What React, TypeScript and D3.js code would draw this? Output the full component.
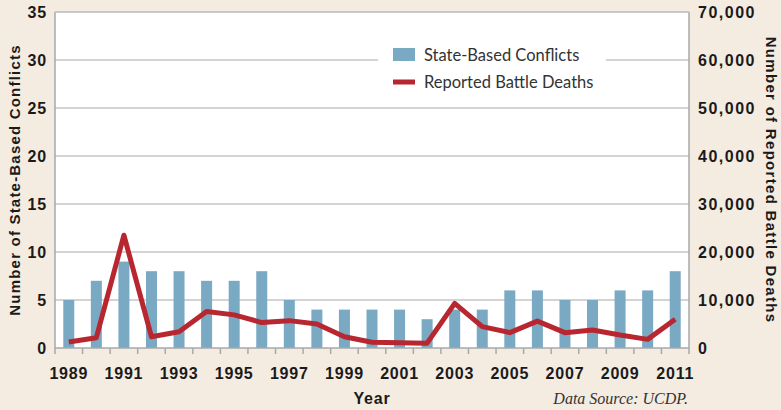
import * as d3 from 'd3';
import { useEffect, useRef } from 'react';

const years = d3.range(1989, 2012).map(String);
const conflicts = [5, 7, 9, 8, 8, 7, 7, 8, 5, 4, 4, 4, 4, 3, 4, 4, 6, 6, 5, 5, 6, 6, 8];
const battleDeaths = [
    1250, 2150, 23500, 2350, 3400, 7600, 6900, 5300, 5700, 5000, 2350, 1200, 1100, 1000, 9300, 4450, 3200, 5600,
    3200, 3750, 2700, 1800, 6000,
];
const leftTicks = [0, 5, 10, 15, 20, 25, 30, 35];
const rightTicks = [0, 10000, 20000, 30000, 40000, 50000, 60000, 70000];
const yearLabels = years.filter((_, i) => i % 2 === 0);

const W = 781;
const H = 410;
const BG = '#f4ebe1';
const BAR = '#7aaac3';
const RED = '#b8262f';
const GRID = '#c4c4c4';
const AXIS_FONT = '"Liberation Sans", Arial, sans-serif';

export default function App() {
    const svgRef = useRef<SVGSVGElement>(null);

    useEffect(() => {
        if (!svgRef.current) return;
        const svg = d3.select(svgRef.current);
        svg.selectAll('*').remove();

        const margin = { top: 12, right: 92, bottom: 62, left: 55 };
        const width = W - margin.left - margin.right;
        const height = H - margin.top - margin.bottom;

        svg.append('rect').attr('width', W).attr('height', H).attr('fill', BG);

        const g = svg.append('g').attr('transform', `translate(${margin.left},${margin.top})`);

        const x = d3.scaleBand().domain(years).range([0, width]);
        const yL = d3.scaleLinear().domain([0, 35]).range([height, 0]);
        const yR = d3.scaleLinear().domain([0, 70000]).range([height, 0]);

        g.append('rect').attr('width', width).attr('height', height).attr('fill', '#fff');

        // legend box hides part of the 30 gridline
        const legX = 323;
        const legW = 228;

        // gridlines
        g.append('g')
            .selectAll('line')
            .data(leftTicks.filter((d) => d > 0 && d !== 30))
            .join('line')
            .attr('x1', 0)
            .attr('x2', width)
            .attr('y1', (d) => yL(d))
            .attr('y2', (d) => yL(d))
            .attr('stroke', GRID)
            .attr('stroke-width', 1.5);

        [
            [0, legX],
            [legX + legW, width],
        ].forEach(([a, b]) => {
            g.append('line')
                .attr('x1', a)
                .attr('x2', b)
                .attr('y1', yL(30))
                .attr('y2', yL(30))
                .attr('stroke', GRID)
                .attr('stroke-width', 1.5);
        });

        // bars
        const bw = 11;
        g.append('g')
            .selectAll('rect')
            .data(conflicts)
            .join('rect')
            .attr('x', (_, i) => (x(years[i]) as number) + x.bandwidth() / 2 - bw / 2)
            .attr('y', (d) => yL(d))
            .attr('width', bw)
            .attr('height', (d) => height - yL(d))
            .attr('fill', BAR);

        // battle deaths line
        const line = d3
            .line<number>()
            .x((_, i) => (x(years[i]) as number) + x.bandwidth() / 2)
            .y((d) => yR(d));
        g.append('path')
            .datum(battleDeaths)
            .attr('d', line)
            .attr('fill', 'none')
            .attr('stroke', RED)
            .attr('stroke-width', 5)
            .attr('stroke-linejoin', 'round');

        // axis frame
        const frame = g.append('g').attr('stroke', '#a9a9a9').attr('stroke-width', 1.5);
        frame.append('line').attr('x1', 0).attr('x2', 0).attr('y1', 0).attr('y2', height + 6);
        frame.append('line').attr('x1', width).attr('x2', width).attr('y1', 0).attr('y2', height + 6);
        frame.append('line').attr('x1', 0).attr('x2', width).attr('y1', 0).attr('y2', 0).attr('stroke', GRID);
        frame.append('line').attr('x1', 0).attr('x2', width).attr('y1', height).attr('y2', height);
        frame
            .selectAll('line.tick')
            .data(years.slice(1))
            .join('line')
            .attr('class', 'tick')
            .attr('x1', (d) => x(d) as number)
            .attr('x2', (d) => x(d) as number)
            .attr('y1', height)
            .attr('y2', height + 6);

        const tickText = (sel: d3.Selection<SVGTextElement, any, any, any>) =>
            sel
                .attr('font-family', AXIS_FONT)
                .attr('font-weight', 'bold')
                .attr('font-size', 16)
                .attr('letter-spacing', 0.8)
                .attr('fill', '#1a1a1a');

        g.append('g')
            .selectAll('text')
            .data(leftTicks)
            .join('text')
            .attr('x', -8)
            .attr('y', (d) => yL(d) + 6)
            .attr('text-anchor', 'end')
            .text((d) => d)
            .call(tickText);

        g.append('g')
            .selectAll('text')
            .data(rightTicks)
            .join('text')
            .attr('x', width + 9)
            .attr('y', (d) => yR(d) + 6)
            .attr('text-anchor', 'start')
            .text((d) => d3.format(',')(d))
            .call(tickText)
            .attr('letter-spacing', 1.5);

        g.append('g')
            .selectAll('text')
            .data(yearLabels)
            .join('text')
            .attr('x', (d) => (x(d) as number) + x.bandwidth() / 2)
            .attr('y', height + 31)
            .attr('text-anchor', 'middle')
            .text((d) => d)
            .call(tickText);

        // axis titles
        svg.append('text')
            .attr('transform', `translate(20,${margin.top + height / 2}) rotate(-90)`)
            .attr('text-anchor', 'middle')
            .text('Number of State-Based Conflicts')
            .call(tickText)
            .attr('font-size', 15)
            .attr('letter-spacing', 1.2);

        svg.append('text')
            .attr('transform', `translate(766,${margin.top + height / 2}) rotate(90)`)
            .attr('text-anchor', 'middle')
            .text('Number of Reported Battle Deaths')
            .call(tickText)
            .attr('font-size', 15)
            .attr('letter-spacing', 1.3);

        svg.append('text')
            .attr('x', 372)
            .attr('y', 404)
            .attr('text-anchor', 'middle')
            .text('Year')
            .call(tickText)
            .attr('font-size', 16);

        svg.append('text')
            .attr('x', margin.left + width - 1)
            .attr('y', 404)
            .attr('text-anchor', 'end')
            .attr('font-family', '"Liberation Serif", "DejaVu Serif", serif')
            .attr('font-style', 'italic')
            .attr('font-size', 16)
            .attr('fill', '#333')
            .text('Data Source: UCDP.');

        // legend
        const leg = g.append('g').attr('transform', `translate(${legX + 15},0)`);
        leg.append('rect').attr('x', 0).attr('y', 36).attr('width', 22).attr('height', 13).attr('fill', BAR);
        leg.append('line')
            .attr('x1', 0)
            .attr('x2', 22)
            .attr('y1', 70)
            .attr('y2', 70)
            .attr('stroke', RED)
            .attr('stroke-width', 5);
        const legText = [
            { label: 'State-Based Conflicts', y: 48.5 },
            { label: 'Reported Battle Deaths', y: 75.5 },
        ];
        leg.selectAll('text.leg')
            .data(legText)
            .join('text')
            .attr('class', 'leg')
            .attr('x', 31)
            .attr('y', (d) => d.y)
            .attr('font-family', 'Lato, "Open Sans", sans-serif')
            .attr('font-size', 16.5)
            .attr('fill', '#333')
            .text((d) => d.label);
    }, []);

    return (
        <svg
            ref={svgRef}
            width={W}
            height={H}
            style={{ position: 'absolute', left: 0, top: 0, display: 'block' }}
        />
    );
}
